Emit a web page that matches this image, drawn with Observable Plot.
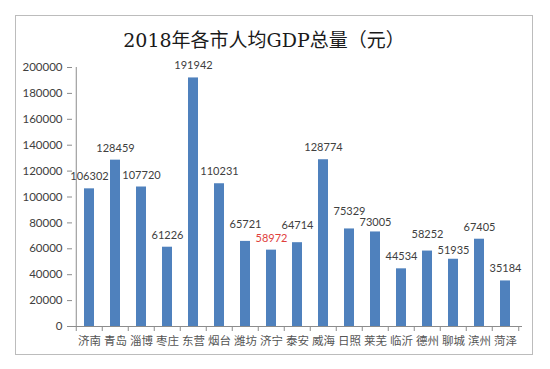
<!DOCTYPE html>
<html>
<head>
<meta charset="utf-8">
<script src="https://cdn.jsdelivr.net/npm/d3@7"></script>
<script src="https://cdn.jsdelivr.net/npm/@observablehq/plot@0.6"></script>
<style>
  html, body { margin: 0; padding: 0; background: #fff; }
  #wrap { position: relative; width: 550px; height: 369px; overflow: hidden; }
  #frame { position: absolute; left: 15px; top: 15px; width: 518px; height: 340px; border: 1px solid #bcbcbc; box-sizing: border-box; }
  #title { position: absolute; left: 6px; top: 26px; width: 516px; text-align: center;
           font-family: "DejaVu Serif", "Noto Sans CJK SC", serif; font-size: 19px; color: #1a1a1a; line-height: 28px; }
  #chart { position: absolute; left: 0; top: 0; }
</style>
</head>
<body>
<div id="wrap">
  <div id="frame"></div>
  <div id="title">2018年各市人均GDP总量（元）</div>
  <div id="chart"></div>
</div>
<script>
const cities = ["济南","青岛","淄博","枣庄","东营","烟台","潍坊","济宁","泰安","威海","日照","莱芜","临沂","德州","聊城","滨州","菏泽"];
const gdpPerCapita = [106302,128459,107720,61226,191942,110231,65721,58972,64714,128774,75329,73005,44534,58252,51935,67405,35184];
const highlightCity = "济宁";
const raisedLabels = ["潍坊","泰安","日照","德州"];
const loweredLabels = ["莱芜","聊城"];
const yTicks = [0,20000,40000,60000,80000,100000,120000,140000,160000,180000,200000];

const data = cities.map((c, i) => ({city: c, value: gdpPerCapita[i]}));

const W = 550, H = 369, mL = 72, mR = 28, mT = 67, mB = 43;
const bw = (W - mL - mR) / cities.length;
const numFont = "Lato, 'Liberation Sans', sans-serif";
const labelFill = d => d.city === highlightCity ? "#e0403c" : "#404040";
const labelOpts = dy => ({x: "city", y: "value", text: d => String(d.value), dy,
  fill: labelFill, fontSize: 11, fontFamily: numFont});

const chart = Plot.plot({
  width: W, height: H,
  marginLeft: mL, marginRight: mR, marginTop: mT, marginBottom: mB,
  style: {background: "transparent", overflow: "visible"},
  x: {domain: cities, padding: 0},
  y: {domain: [0, 200000]},
  marks: [
    Plot.barY(data, {x: "city", y: "value", fill: "#4f81bd", insetLeft: 8, insetRight: 8}),
    Plot.axisY({ticks: yTicks, tickSize: 5, tickPadding: 5, stroke: "#8c8c8c", fill: "#404040",
      fontSize: 11.5, fontFamily: numFont, tickFormat: d => String(d), label: null}),
    Plot.ruleX([cities[0]], {x: d => d, dx: -bw / 2, y1: 0, y2: 200000, stroke: "#8c8c8c"}),
    Plot.ruleY([0], {stroke: "#8c8c8c"}),
    Plot.axisX({tickSize: 5, text: null, dx: -bw / 2, stroke: "#8c8c8c", label: null}),
    Plot.axisX({ticks: [cities[cities.length - 1]], tickSize: 5, text: null, dx: bw / 2, stroke: "#8c8c8c", label: null}),
    Plot.axisX({tickSize: 0, tickPadding: 10, fill: "#555", fontSize: 11.5,
      fontFamily: "'Noto Sans CJK SC', sans-serif", label: null}),
    Plot.text(data.filter(d => !raisedLabels.includes(d.city) && !loweredLabels.includes(d.city)), labelOpts(-12)),
    Plot.text(data.filter(d => raisedLabels.includes(d.city)), labelOpts(-17)),
    Plot.text(data.filter(d => loweredLabels.includes(d.city)), labelOpts(-9))
  ]
});
document.getElementById("chart").appendChild(chart);
</script>
</body>
</html>
